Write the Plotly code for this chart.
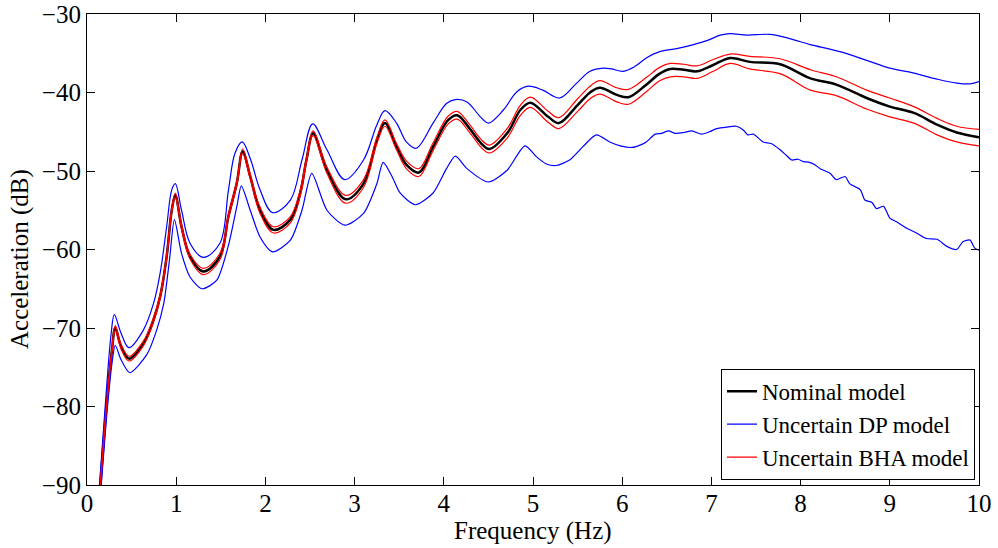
import plotly.graph_objects as go

# nominal model and BHA bounds share the same frequency grid
freq_model = [0.15, 0.224, 0.28, 0.317, 0.38, 0.47, 0.63, 0.745, 0.82, 0.893, 0.95, 0.99, 1.06, 1.155,
              1.305, 1.49, 1.585, 1.68, 1.745, 1.83, 1.94, 2.09, 2.28, 2.39, 2.46, 2.535, 2.69, 2.90,
              3.10, 3.25, 3.34, 3.47, 3.58, 3.72, 3.88, 4.05, 4.15, 4.29, 4.42, 4.51, 4.71, 4.86,
              4.97, 5.17, 5.29, 5.50, 5.65, 5.75, 5.94, 6.07, 6.27, 6.42, 6.54, 6.69, 6.84, 7.02,
              7.21, 7.43, 7.77, 8.11, 8.40, 8.74, 9.0, 9.27, 9.53, 9.75, 10.0]

nominal = [-90.0, -79.2, -72.8, -70.0, -72.3, -73.9, -72.0, -69.0, -66.0, -60.9, -55.0, -53.1, -57.1, -60.9,
           -62.8, -60.9, -55.8, -51.5, -47.5, -50.7, -55.0, -57.5, -56.2, -52.8, -48.6, -45.2, -49.9, -53.6,
           -51.6, -46.1, -43.9, -46.9, -49.2, -50.2, -46.9, -43.5, -42.9, -44.6, -46.5, -47.2, -45.2, -42.2,
           -41.3, -43.1, -43.9, -41.6, -39.9, -39.4, -40.3, -40.6, -39.0, -37.6, -37.0, -37.1, -37.3, -36.5,
           -35.6, -36.1, -36.4, -38.2, -39.0, -40.7, -41.8, -42.6, -44.1, -45.1, -45.7]

bha_upper = [-89.8, -79.0, -72.5, -69.7, -72.0, -73.6, -71.7, -68.7, -65.7, -60.6, -54.7, -52.8, -56.8, -60.6,
             -62.4, -60.5, -55.5, -51.2, -47.2, -50.4, -54.6, -57.1, -55.8, -52.4, -48.3, -44.9, -49.5, -53.1,
             -51.1, -45.7, -43.5, -46.5, -48.7, -49.7, -46.4, -43.0, -42.4, -44.1, -46.0, -46.7, -44.6, -41.6,
             -40.6, -42.4, -43.2, -40.8, -39.1, -38.5, -39.4, -39.6, -38.1, -36.8, -36.3, -36.4, -36.6, -35.8,
             -35.1, -35.4, -35.7, -37.1, -38.0, -39.7, -40.7, -41.8, -43.3, -44.3, -44.7]

bha_lower = [-90.2, -79.4, -73.1, -70.3, -72.6, -74.2, -72.3, -69.3, -66.3, -61.2, -55.3, -53.4, -57.4, -61.2,
             -63.2, -61.3, -56.1, -51.8, -47.8, -51.0, -55.4, -57.9, -56.6, -53.2, -48.9, -45.5, -50.3, -54.1,
             -52.1, -46.5, -44.3, -47.3, -49.7, -50.7, -47.4, -44.0, -43.4, -45.1, -47.0, -47.7, -45.8, -42.9,
             -41.9, -43.8, -44.6, -42.4, -40.7, -40.2, -41.2, -41.5, -39.9, -38.5, -38.0, -38.0, -38.2, -37.3,
             -36.3, -37.0, -37.6, -39.7, -40.4, -42.1, -43.1, -43.9, -45.4, -46.3, -46.8]

# DP model bounds (read separately)
freq_dp_upper = [0.14, 0.22, 0.27, 0.306, 0.38, 0.47, 0.63, 0.745, 0.82, 0.893, 0.95, 0.99, 1.06, 1.155,
                 1.305, 1.49, 1.585, 1.66, 1.74, 1.83, 1.94, 2.08, 2.28, 2.41, 2.53, 2.69, 2.89, 3.10,
                 3.25, 3.34, 3.47, 3.58, 3.69, 3.88, 4.03, 4.13, 4.26, 4.41, 4.50, 4.67, 4.82, 4.95,
                 5.11, 5.30, 5.49, 5.64, 5.79, 5.88, 6.01, 6.14, 6.27, 6.42, 6.61, 6.80, 6.95, 7.10,
                 7.21, 7.40, 7.66, 7.99, 8.11, 8.44, 8.74, 9.0, 9.26, 9.53, 9.75, 9.9, 10.0]
dp_upper = [-90.0, -77.5, -70.8, -68.3, -70.6, -72.5, -70.3, -66.9, -63.0, -57.1, -52.4, -51.6, -55.0, -59.2,
            -61.0, -59.2, -52.5, -47.7, -46.3, -48.4, -52.4, -55.3, -53.7, -48.6, -44.0, -47.3, -51.1, -48.6,
            -44.1, -42.3, -43.9, -46.3, -47.1, -43.9, -41.4, -40.9, -41.2, -43.1, -43.9, -42.2, -39.9, -39.2,
            -39.7, -40.7, -38.8, -37.3, -36.9, -37.0, -37.3, -36.7, -35.6, -34.8, -34.4, -33.9, -33.4, -32.7,
            -32.5, -32.7, -32.6, -33.5, -33.9, -34.8, -35.9, -36.9, -37.5, -38.3, -38.8, -38.9, -38.6]

freq_dp_lower = [0.16, 0.23, 0.28, 0.317, 0.38, 0.48, 0.67, 0.78, 0.86, 0.925, 0.98, 1.06, 1.155, 1.29,
                 1.455, 1.585, 1.68, 1.73, 1.83, 1.94, 2.08, 2.28, 2.41, 2.52, 2.69, 2.89, 3.10, 3.25,
                 3.32, 3.42, 3.51, 3.68, 3.88, 4.03, 4.13, 4.26, 4.50, 4.71, 4.91, 5.04, 5.15, 5.26,
                 5.41, 5.56, 5.71, 5.86, 5.98, 6.11, 6.20, 6.27, 6.37, 6.44, 6.52, 6.59, 6.69, 6.78,
                 6.89, 6.98, 7.06, 7.17, 7.28, 7.36, 7.41, 7.47, 7.58, 7.67, 7.77, 7.84, 7.90, 7.97,
                 8.03, 8.10, 8.16, 8.22, 8.33, 8.40, 8.50, 8.55, 8.67, 8.72, 8.80, 8.85, 8.93, 9.00,
                 9.08, 9.19, 9.30, 9.41, 9.53, 9.64, 9.75, 9.82, 9.90, 9.95, 10.0]
dp_lower = [-90.0, -80.0, -74.5, -72.2, -74.0, -75.7, -73.4, -70.3, -66.9, -61.3, -56.2, -60.5, -63.5, -65.0,
            -63.9, -59.5, -54.5, -51.9, -55.0, -58.4, -60.3, -58.8, -55.0, -50.3, -55.0, -56.9, -55.4, -51.6,
            -48.9, -50.7, -52.8, -54.3, -52.8, -49.7, -48.1, -49.7, -51.4, -49.9, -46.8, -48.2, -49.1, -49.3,
            -48.6, -46.9, -45.4, -46.3, -46.8, -47.0, -46.7, -46.3, -45.3, -45.2, -44.9, -45.2, -45.1, -44.9,
            -45.3, -45.0, -44.6, -44.4, -44.3, -44.8, -45.4, -45.3, -46.3, -46.5, -47.3, -48.0, -48.6, -48.5,
            -48.8, -48.9, -49.2, -49.7, -50.3, -51.1, -50.7, -51.6, -52.4, -53.7, -54.0, -54.8, -54.5, -56.0,
            -56.5, -57.3, -57.9, -58.6, -58.7, -59.6, -60.0, -59.0, -58.8, -59.8, -60.1]

FONT = "Liberation Serif, Times New Roman, serif"

fig = go.Figure()

fig.add_trace(go.Scatter(x=freq_model, y=nominal, mode="lines", name="Nominal model",
                         line=dict(color="black", width=2.5, shape="spline", smoothing=1.0)))
fig.add_trace(go.Scatter(x=freq_dp_upper, y=dp_upper, mode="lines", name="Uncertain DP model",
                         legendgroup="dp", line=dict(color="#0000ff", width=1.2, shape="spline", smoothing=1.0)))
fig.add_trace(go.Scatter(x=freq_dp_lower, y=dp_lower, mode="lines", name="Uncertain DP model",
                         legendgroup="dp", showlegend=False,
                         line=dict(color="#0000ff", width=1.2, shape="spline", smoothing=0.7)))
fig.add_trace(go.Scatter(x=freq_model, y=bha_upper, mode="lines", name="Uncertain BHA model",
                         legendgroup="bha", line=dict(color="#ff0000", width=1.2, shape="spline", smoothing=1.0)))
fig.add_trace(go.Scatter(x=freq_model, y=bha_lower, mode="lines", name="Uncertain BHA model",
                         legendgroup="bha", showlegend=False,
                         line=dict(color="#ff0000", width=1.2, shape="spline", smoothing=1.0)))

axis_style = dict(showline=True, linecolor="black", linewidth=1.2, mirror="ticks",
                  ticks="inside", ticklen=8, tickcolor="black", showgrid=False, zeroline=False,
                  automargin=False, tickfont=dict(size=25, color="black", family=FONT))

fig.update_layout(
    width=998, height=548,
    margin=dict(l=87, r=19, t=14, b=63),
    paper_bgcolor="white", plot_bgcolor="white",
    font=dict(family=FONT, size=25, color="black"),
    xaxis=dict(range=[0, 10], dtick=1, ticklabelstandoff=-4, **axis_style),
    yaxis=dict(range=[-90, -30], dtick=10, **axis_style),
    legend=dict(x=0.9955, xanchor="right", y=0.011, yanchor="bottom", bgcolor="white",
                bordercolor="black", borderwidth=1, font=dict(size=23, family=FONT),
                tracegroupgap=0, itemwidth=30),
    showlegend=True,
)

# axis titles as annotations for exact placement
fig.add_annotation(text="Frequency (Hz)", xref="paper", yref="paper", x=0.5, y=-0.097,
                   xanchor="center", yanchor="middle", showarrow=False,
                   font=dict(size=25, family=FONT, color="black"))
fig.add_annotation(text="Acceleration (dB)", xref="paper", yref="paper", x=-0.075, y=0.48,
                   xanchor="center", yanchor="middle", textangle=-90, showarrow=False,
                   font=dict(size=25, family=FONT, color="black"))

# drop the default 8px page margin so the figure sits at the window corner
fig.write_html("out.html", config={"displayModeBar": False},
               post_script="document.body.style.margin='0';")
